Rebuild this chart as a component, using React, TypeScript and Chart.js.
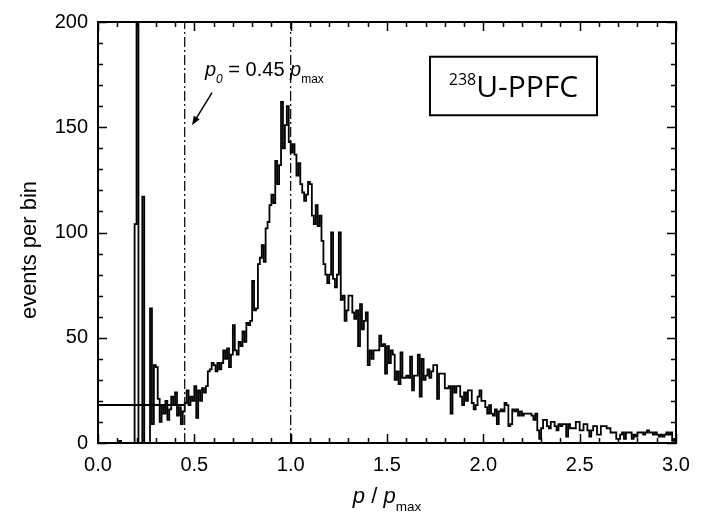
import React, { useEffect, useRef } from 'react';
import { Chart, registerables } from 'chart.js';

Chart.register(...registerables);

// ---- data ----
const BIN_START = 0;
const BIN_WIDTH = 0.01;
const COUNTS = [
  0, 0, 0, 0, 0, 0, 0, 0, 0, 0,
  0, 1, 0, 0, 0, 0, 0, 0, 0, 104,
  260, 0, 0, 117, 0, 0, 0, 64, 9, 37,
  36, 21, 10, 18, 14, 20, 11, 16, 22, 18,
  24, 13, 17, 9, 15, 19, 25, 18, 22, 20,
  27, 12, 25, 20, 26, 24, 27, 34, 35, 38,
  37, 34, 38, 35, 38, 44, 40, 45, 36, 42,
  56, 44, 42, 48, 46, 53, 48, 57, 56, 58,
  77, 63, 64, 85, 88, 94, 86, 102, 105, 113,
  118, 114, 134, 123, 132, 162, 140, 151, 160, 143,
  138, 142, 137, 127, 133, 123, 119, 115, 118, 124,
  123, 108, 104, 113, 103, 108, 96, 85, 80, 76,
  80, 100, 78, 74, 80, 100, 68, 70, 58, 63,
  70, 70, 62, 59, 63, 46, 66, 54, 58, 62,
  37, 44, 40, 44, 44, 44, 51, 46, 47, 33,
  46, 38, 44, 42, 30, 34, 28, 43, 31, 31,
  32, 31, 41, 25, 32, 32, 42, 22, 40, 30,
  32, 35, 31, 34, 37, 37, 21, 33, 33, 33,
  26, 26, 27, 14, 27, 24, 27, 27, 22, 18,
  24, 20, 25, 25, 19, 16, 18, 22, 25, 20,
  20, 17, 14, 18, 14, 13, 16, 9, 15, 16,
  15, 19, 18, 8, 9, 16, 15, 16, 13, 15,
  13, 14, 14, 14, 14, 13, 11, 14, 6, 2,
  7, 11, 11, 8, 7, 10, 10, 8, 6, 9,
  8, 9, 9, 3, 9, 7, 7, 7, 10, 10,
  6, 6, 9, 9, 6, 3, 6, 8, 8, 4,
  4, 8, 8, 8, 7, 7, 5, 5, 5, 2,
  2, 4, 5, 2, 5, 5, 5, 2, 4, 3,
  5, 5, 5, 4, 5, 6, 5, 5, 4, 5,
  4, 3, 4, 3, 4, 5, 4, 5, 1, 2,
];
const X_TICKS = [0, 0.5, 1.0, 1.5, 2.0, 2.5, 3.0];
const X_MINOR = 0.1;
const Y_TICKS = [0, 50, 100, 150, 200];
const Y_MINOR = 10;
const X_RANGE = [0, 3];
const Y_RANGE = [0, 200];
const P0_LINE = 0.45;
const PMAX_LINE = 1.0;
const BACKGROUND_LEVEL = 18;
const BACKGROUND_END = 0.45;
const ARROW_TAIL = { x: 0.592, y: 166.5 };
const ARROW_TIP = { x: 0.488, y: 151 };
const LABEL_BOX = { x0: 1.723, x1: 2.59, y0: 183.5, y1: 155.7 };

const SANS = '"Liberation Sans", Arial, sans-serif';

const histogramPoints = () => {
  const pts = COUNTS.map((v, i) => ({ x: BIN_START + i * BIN_WIDTH, y: v }));
  pts.push({ x: BIN_START + COUNTS.length * BIN_WIDTH, y: COUNTS[COUNTS.length - 1] });
  return pts;
};

const decorPlugin = {
  id: 'decor',
  afterDatasetsDraw(chart: any) {
    const { ctx, chartArea: a, scales } = chart;
    const xs = scales.x;
    const ys = scales.y;
    ctx.save();
    ctx.strokeStyle = '#000';
    ctx.fillStyle = '#000';

    // ticks inward on all sides
    ctx.lineWidth = 1.5;
    const nx = Math.round((X_RANGE[1] - X_RANGE[0]) / X_MINOR);
    for (let i = 0; i <= nx; i++) {
      const v = X_RANGE[0] + i * X_MINOR;
      const major = X_TICKS.some((t) => Math.abs(t - v) < 1e-6);
      const len = major ? 9 : 5;
      const px = Math.round(xs.getPixelForValue(v)) + 0.5;
      ctx.beginPath();
      ctx.moveTo(px, a.bottom);
      ctx.lineTo(px, a.bottom - len);
      ctx.moveTo(px, a.top);
      ctx.lineTo(px, a.top + len);
      ctx.stroke();
    }
    const ny = Math.round((Y_RANGE[1] - Y_RANGE[0]) / Y_MINOR);
    for (let i = 0; i <= ny; i++) {
      const v = Y_RANGE[0] + i * Y_MINOR;
      const major = Y_TICKS.some((t) => Math.abs(t - v) < 1e-6);
      const len = major ? 9 : 5;
      const py = Math.round(ys.getPixelForValue(v)) + 0.5;
      ctx.beginPath();
      ctx.moveTo(a.left, py);
      ctx.lineTo(a.left + len, py);
      ctx.moveTo(a.right, py);
      ctx.lineTo(a.right - len, py);
      ctx.stroke();
    }

    // frame
    ctx.lineWidth = 2;
    ctx.strokeRect(a.left, a.top, a.right - a.left, a.bottom - a.top);

    // arrow
    const tx = xs.getPixelForValue(ARROW_TAIL.x);
    const ty = ys.getPixelForValue(ARROW_TAIL.y);
    const hx = xs.getPixelForValue(ARROW_TIP.x);
    const hy = ys.getPixelForValue(ARROW_TIP.y);
    const ang = Math.atan2(hy - ty, hx - tx);
    ctx.lineWidth = 1.5;
    ctx.beginPath();
    ctx.moveTo(tx, ty);
    ctx.lineTo(hx - 6 * Math.cos(ang), hy - 6 * Math.sin(ang));
    ctx.stroke();
    ctx.beginPath();
    ctx.moveTo(hx, hy);
    ctx.lineTo(hx - 9 * Math.cos(ang) + 3.5 * Math.sin(ang), hy - 9 * Math.sin(ang) - 3.5 * Math.cos(ang));
    ctx.lineTo(hx - 9 * Math.cos(ang) - 3.5 * Math.sin(ang), hy - 9 * Math.sin(ang) + 3.5 * Math.cos(ang));
    ctx.closePath();
    ctx.fill();

    // annotation text p0 = 0.45 pmax
    ctx.textBaseline = 'alphabetic';
    ctx.textAlign = 'left';
    let x = 205;
    const base = 76;
    ctx.font = `italic 20px ${SANS}`;
    ctx.fillText('p', x, base);
    x += ctx.measureText('p').width;
    ctx.font = `italic 12px ${SANS}`;
    ctx.fillText('0', x, base + 7);
    x += ctx.measureText('0').width;
    ctx.font = `20px ${SANS}`;
    ctx.fillText(' = 0.45 ', x, base);
    x += ctx.measureText(' = 0.45 ').width;
    ctx.font = `italic 20px ${SANS}`;
    ctx.fillText('p', x, base);
    x += ctx.measureText('p').width;
    ctx.font = `12px ${SANS}`;
    ctx.fillText('max', x, base + 7);

    // label box
    const bx0 = xs.getPixelForValue(LABEL_BOX.x0);
    const bx1 = xs.getPixelForValue(LABEL_BOX.x1);
    const by0 = ys.getPixelForValue(LABEL_BOX.y0);
    const by1 = ys.getPixelForValue(LABEL_BOX.y1);
    ctx.lineWidth = 2;
    ctx.strokeRect(bx0, by0, bx1 - bx0, by1 - by0);
    ctx.font = `16px "Open Sans", sans-serif`;
    const supW = ctx.measureText('238').width;
    ctx.font = `30px "Open Sans", sans-serif`;
    const mainW = ctx.measureText('U-PPFC').width;
    let lx = (bx0 + bx1) / 2 - (supW + mainW) / 2;
    const lb = by1 - 18;
    ctx.font = `16px "Open Sans", sans-serif`;
    ctx.fillText('238', lx, lb - 12);
    lx += supW;
    ctx.font = `30px "Open Sans", sans-serif`;
    ctx.fillText('U-PPFC', lx, lb);

    // y title
    ctx.save();
    ctx.translate(36, 250);
    ctx.rotate(-Math.PI / 2);
    ctx.font = `22px ${SANS}`;
    ctx.textAlign = 'center';
    ctx.fillText('events per bin', 0, 0);
    ctx.restore();

    // x title p / pmax
    ctx.font = `italic 22px ${SANS}`;
    const w1 = ctx.measureText('p').width;
    ctx.font = `22px ${SANS}`;
    const w2 = ctx.measureText(' / ').width;
    ctx.font = `italic 22px ${SANS}`;
    const w3 = ctx.measureText('p').width;
    ctx.font = `13.5px ${SANS}`;
    const w4 = ctx.measureText('max').width;
    let xx = (a.left + a.right) / 2 - (w1 + w2 + w3 + w4) / 2;
    const xb = 503;
    ctx.font = `italic 22px ${SANS}`;
    ctx.fillText('p', xx, xb);
    xx += w1;
    ctx.font = `22px ${SANS}`;
    ctx.fillText(' / ', xx, xb);
    xx += w2;
    ctx.font = `italic 22px ${SANS}`;
    ctx.fillText('p', xx, xb);
    xx += w3;
    ctx.font = `13.5px ${SANS}`;
    ctx.fillText('max', xx, xb + 8);

    ctx.restore();
  },
};

export default function App() {
  const ref = useRef<HTMLCanvasElement | null>(null);
  useEffect(() => {
    if (!ref.current) return;
    const dashDot = [10, 3, 2, 3];
    const chart = new Chart(ref.current, {
      type: 'line',
      data: {
        datasets: [
          {
            data: histogramPoints(),
            borderColor: '#000',
            borderWidth: 1.8,
            stepped: 'before',
            pointRadius: 0,
            fill: false,
          },
          {
            data: [
              { x: X_RANGE[0], y: BACKGROUND_LEVEL },
              { x: BACKGROUND_END, y: BACKGROUND_LEVEL },
            ],
            borderColor: '#000',
            borderWidth: 2,
            pointRadius: 0,
          },
          {
            data: [
              { x: P0_LINE, y: Y_RANGE[0] },
              { x: P0_LINE, y: Y_RANGE[1] },
            ],
            borderColor: '#000',
            borderWidth: 1.2,
            borderDash: dashDot,
            pointRadius: 0,
          },
          {
            data: [
              { x: PMAX_LINE, y: Y_RANGE[0] },
              { x: PMAX_LINE, y: Y_RANGE[1] },
            ],
            borderColor: '#000',
            borderWidth: 1.2,
            borderDash: dashDot,
            pointRadius: 0,
          },
        ],
      },
      options: {
        responsive: false,
        devicePixelRatio: 1,
        animation: false,
        layout: { padding: { left: 0, top: 19, right: 25, bottom: 0 } },
        plugins: { legend: { display: false }, tooltip: { enabled: false } },
        scales: {
          x: {
            type: 'linear',
            min: X_RANGE[0],
            max: X_RANGE[1],
            afterBuildTicks: (s: any) => {
              s.ticks = X_TICKS.map((v) => ({ value: v }));
            },
            afterFit: (s: any) => {
              s.height = 78;
            },
            grid: { display: false, drawTicks: false },
            border: { display: false },
            ticks: {
              padding: 10,
              color: '#000',
              font: { family: SANS, size: 20 },
              maxRotation: 0,
              callback: (v: any) => Number(v).toFixed(1),
            },
          },
          y: {
            type: 'linear',
            min: Y_RANGE[0],
            max: Y_RANGE[1],
            afterBuildTicks: (s: any) => {
              s.ticks = Y_TICKS.map((v) => ({ value: v }));
            },
            afterFit: (s: any) => {
              s.width = 98;
            },
            grid: { display: false, drawTicks: false },
            border: { display: false },
            ticks: {
              padding: 10,
              color: '#000',
              font: { family: SANS, size: 20 },
              callback: (v: any) => String(v),
            },
          },
        },
      },
      plugins: [decorPlugin],
    });
    return () => chart.destroy();
  }, []);
  return (
    <div style={{ position: 'fixed', left: 0, top: 0, width: 701, height: 521, background: '#fff' }}>
      <canvas ref={ref} width={701} height={521} style={{ display: 'block', width: 701, height: 521 }} />
    </div>
  );
}
